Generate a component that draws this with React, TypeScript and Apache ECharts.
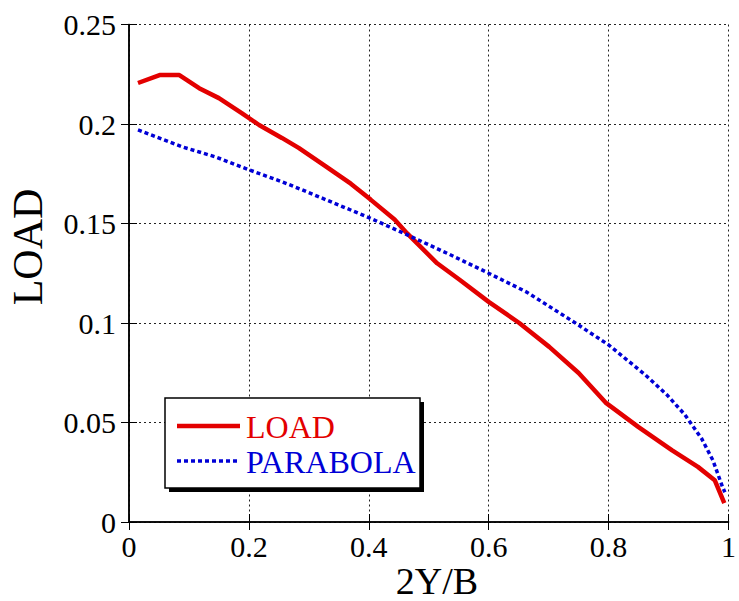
import React, { useEffect, useRef } from "react";
import * as echarts from "echarts";

const loadX = [0.015, 0.051, 0.084, 0.117, 0.150, 0.188, 0.217, 0.255, 0.283, 0.327, 0.370, 0.403, 0.443, 0.464, 0.514, 0.552, 0.600, 0.651, 0.701, 0.750, 0.795, 0.850, 0.906, 0.949, 0.977, 0.993];
const loadY = [0.2206, 0.2246, 0.2246, 0.218, 0.213, 0.2055, 0.1995, 0.193, 0.188, 0.179, 0.170, 0.162, 0.152, 0.145, 0.130, 0.1216, 0.1106, 0.100, 0.088, 0.0749, 0.060, 0.0477, 0.036, 0.0277, 0.021, 0.0095];

const paraX = [0.015, 0.089, 0.145, 0.200, 0.255, 0.288, 0.344, 0.400, 0.459, 0.531, 0.600, 0.663, 0.742, 0.800, 0.861, 0.897, 0.927, 0.955, 0.974, 0.990, 0.994];
const paraY = [0.197, 0.1885, 0.1834, 0.177, 0.171, 0.167, 0.160, 0.153, 0.145, 0.135, 0.125, 0.1156, 0.1005, 0.089, 0.074, 0.064, 0.054, 0.042, 0.031, 0.0176, 0.015];

const seriesNames = ["LOAD", "PARABOLA"];
const xTitle = "2Y/B";
const yTitle = "LOAD";

const FONT = "'Liberation Serif', 'Times New Roman', serif";
const RED = "#e30000";
const BLUE = "#0000d6";

export default function App() {
  const ref = useRef<HTMLDivElement>(null);
  useEffect(() => {
    document.body.style.margin = "0";
    const chart = echarts.init(ref.current!, undefined, { renderer: "svg" });
    const axisCommon = {
      type: "value" as const,
      axisLine: { show: true, lineStyle: { color: "#000", width: 1.5 } },
      axisTick: { show: true, inside: true, length: 8, lineStyle: { color: "#000", width: 1 } },
    };
    const splitLine = { show: true, lineStyle: { color: "#222", width: 1, type: [2, 3] } };
    chart.setOption({
      animation: false,
      backgroundColor: "#fff",
      grid: { left: 129, right: 5, top: 24.5, bottom: 79, containLabel: false },
      xAxis: [
        {
          ...axisCommon,
          position: "bottom",
          min: 0, max: 1, interval: 0.2,
          splitLine,
          axisLabel: { fontFamily: FONT, fontSize: 30, color: "#000", margin: 9 },
        },
        {
          ...axisCommon,
          position: "top",
          min: 0, max: 1, interval: 0.2,
          splitLine: { show: false },
          axisLabel: { show: false },
        },
      ],
      yAxis: [
        {
          ...axisCommon,
          position: "left",
          min: 0, max: 0.25, interval: 0.05,
          splitLine,
          axisLabel: { fontFamily: FONT, fontSize: 30, color: "#000", margin: 13 },
        },
        {
          ...axisCommon,
          position: "right",
          min: 0, max: 0.25, interval: 0.05,
          splitLine: { show: false },
          axisLabel: { show: false },
        },
      ],
      legend: { show: false },
      graphic: [
        { type: "rect", z: 3, shape: { x: 169, y: 402, width: 255, height: 90 }, style: { fill: "#000" } },
        { type: "rect", z: 3, shape: { x: 165, y: 398, width: 255, height: 90 }, style: { fill: "#fff", stroke: "#000", lineWidth: 1.5 } },
        { type: "line", z: 4, shape: { x1: 177, y1: 426, x2: 240, y2: 426 }, style: { stroke: RED, lineWidth: 4.5 } },
        { type: "line", z: 4, shape: { x1: 177, y1: 461, x2: 240, y2: 461 }, style: { stroke: BLUE, lineWidth: 3.5, lineDash: [4, 3] } },
        {
          type: "text", x: 246, y: 427, z: 5,
          style: { text: seriesNames[0], fontFamily: FONT, fontSize: 32, fill: RED, align: "left", verticalAlign: "middle" },
        },
        {
          type: "text", x: 246, y: 462, z: 5,
          style: { text: seriesNames[1], fontFamily: FONT, fontSize: 32, fill: BLUE, align: "left", verticalAlign: "middle" },
        },
        {
          type: "text", x: 437, y: 581, z: 5,
          style: { text: xTitle, fontFamily: FONT, fontSize: 38, fill: "#000", align: "center", verticalAlign: "middle" },
        },
        {
          type: "text", x: 28, y: 247, rotation: Math.PI / 2, z: 5,
          style: { text: yTitle, fontFamily: FONT, fontSize: 42, fill: "#000", align: "center", verticalAlign: "middle" },
        },
      ],
      series: [
        {
          name: seriesNames[0],
          type: "line",
          showSymbol: false,
          symbol: "none",
          data: loadX.map((x, i) => [x, loadY[i]]),
          lineStyle: { color: RED, width: 4.5 },
          itemStyle: { color: RED },
          z: 2,
        },
        {
          name: seriesNames[1],
          type: "line",
          showSymbol: false,
          symbol: "none",
          data: paraX.map((x, i) => [x, paraY[i]]),
          lineStyle: { color: BLUE, width: 3.5, type: [4, 3] },
          itemStyle: { color: BLUE },
          z: 2,
        },
      ],
    });
    return () => chart.dispose();
  }, []);
  return <div ref={ref} style={{ width: 739, height: 601 }} />;
}
